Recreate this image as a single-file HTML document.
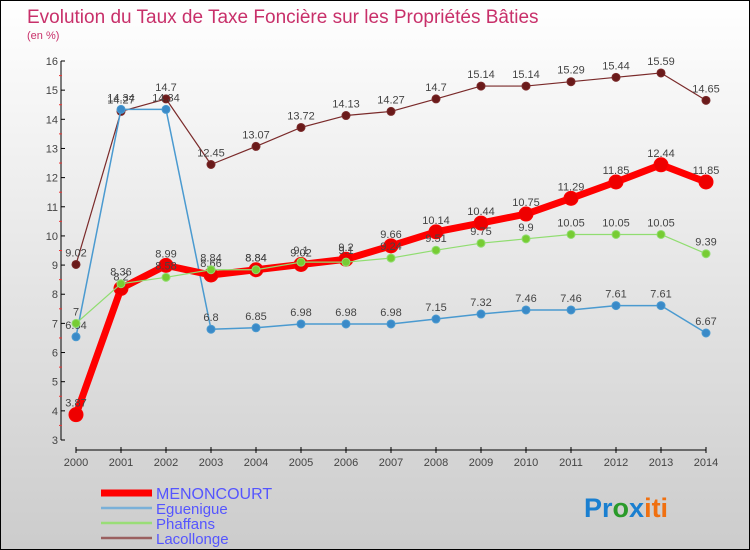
<!DOCTYPE html>
<html><head><meta charset="utf-8"><style>
body{margin:0}
#c{position:relative;width:748px;height:548px;border:1px solid #000;background:linear-gradient(#fff,#ccc);font-family:"Liberation Sans",sans-serif;overflow:hidden}
</style></head><body>
<div id="c">
<svg id="s" width="748" height="548" xmlns="http://www.w3.org/2000/svg">
<text x="26" y="22" font-size="19" fill="#c8306a">Evolution du Taux de Taxe Foncière sur les Propriétés Bâties</text>
<text x="26" y="38" font-size="11" fill="#c8306a">(en %)</text>
<g id="axes"></g><g id="series"></g><g id="legend"></g>
<text x="583" y="516" font-size="27" font-weight="bold"><tspan fill="#1a7fd0">Pr</tspan><tspan fill="#2a9a2a">o</tspan><tspan fill="#1a7fd0">x</tspan><tspan fill="#f07010">iti</tspan></text>
</svg>
</div>
<script>
const years=[2000,2001,2002,2003,2004,2005,2006,2007,2008,2009,2010,2011,2012,2013,2014];
const yTicks=[3,4,5,6,7,8,9,10,11,12,13,14,15,16];
const menoncourt=[3.87,8.2,8.99,8.66,8.84,9.02,9.2,9.66,10.14,10.44,10.75,11.29,11.85,12.44,11.85];
const eguenigue=[6.54,14.34,14.34,6.8,6.85,6.98,6.98,6.98,7.15,7.32,7.46,7.46,7.61,7.61,6.67];
const phaffans=[7,8.36,8.58,8.84,8.84,9.1,9.1,9.24,9.51,9.75,9.9,10.05,10.05,10.05,9.39];
const lacollonge=[9.02,14.27,14.7,12.45,13.07,13.72,14.13,14.27,14.7,15.14,15.14,15.29,15.44,15.59,14.65];
const NS="http://www.w3.org/2000/svg";
const X=i=>75+i*(630/14);
const Y=v=>439-(v-3)*(379/13);
function mk(t,a,p){const e=document.createElementNS(NS,t);for(const k in a)e.setAttribute(k,a[k]);p.appendChild(e);return e;}
const ax=document.getElementById('axes');
let l=mk('line',{x1:60,y1:Y(16),x2:60,y2:Y(3),stroke:'#000'},ax);

l=mk('line',{x1:75,y1:449,x2:705,y2:449,stroke:'#000'},ax);

yTicks.forEach(v=>{
 mk('line',{x1:60,y1:Y(v),x2:64,y2:Y(v),stroke:'#000'},ax);
 if(v<16)mk('line',{x1:58,y1:Y(v+0.5),x2:61,y2:Y(v+0.5),stroke:'#e33'},ax);
 const t=mk('text',{x:57,y:Y(v)+4,'font-size':11,fill:'#444','text-anchor':'end'},ax);t.textContent=v;
 
});
years.forEach((y,i)=>{
 mk('line',{x1:X(i),y1:446,x2:X(i),y2:452,stroke:'#000'},ax);
 const t=mk('text',{x:X(i),y:465,'font-size':11,fill:'#444','text-anchor':'middle'},ax);t.textContent=y;
 
});
const sg=document.getElementById('series');
function series(d,name,color,mc,w,r){
 const g=mk('g',{},sg);
 
 const p=mk('polyline',{points:d.map((v,i)=>X(i)+','+Y(v)).join(' '),fill:'none',stroke:color,'stroke-width':w,'stroke-linejoin':'round'},g);
 
 d.forEach((v,i)=>{
  const c=mk('circle',{cx:X(i),cy:Y(v),r:r,fill:mc,stroke:color,'stroke-width':1},g);
  
  const t=mk('text',{x:X(i),y:Y(v)-8,'font-size':11,fill:'#444','text-anchor':'middle'},g);t.textContent=v;
  
 });
}
series(lacollonge,'lacollonge','#7a2a2a','#6a1a1a',1.2,4);
series(eguenigue,'eguenigue','#4a9ad0','#3a8ac8',1.5,4);
series(menoncourt,'menoncourt','#ff0000','#ee0000',7,7);
series(phaffans,'phaffans','#90dd70','#77cc33',1.2,4);
const lg=document.getElementById('legend');
[['MENONCOURT','#ff0000',7],['Eguenigue','#7ab0d8',2.5],['Phaffans','#99dd77',2.5],['Lacollonge','#9a6060',2.5]].forEach((e,i)=>{
 const y=492+i*15;
 const g=mk('g',{},lg);
 
 mk('line',{x1:100,y1:y,x2:151,y2:y,stroke:e[1],'stroke-width':e[2]},g);
 const t=mk('text',{x:155,y:y+6,'font-size':i==0?16:15,fill:'#5555ff'},g);t.textContent=e[0];
});
</script>
</body></html>
